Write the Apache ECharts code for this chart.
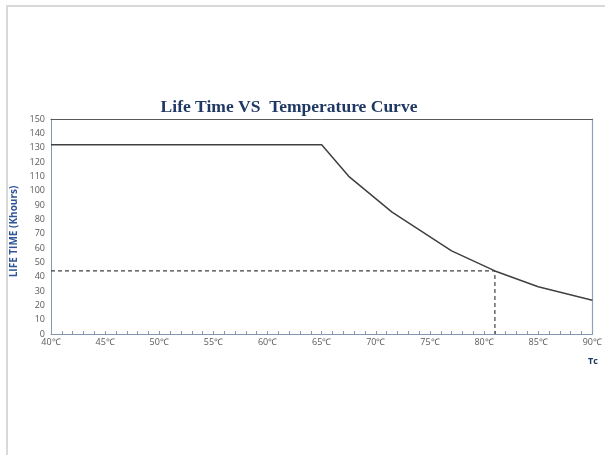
<!DOCTYPE html>
<html>
<head>
<meta charset="utf-8">
<script src="https://cdn.jsdelivr.net/npm/echarts@6/dist/echarts.min.js"></script>
<style>
html,body{margin:0;padding:0;background:#fff;}
#chart{width:605px;height:455px;}
</style>
</head>
<body>
<div id="chart"></div>
<script>
// Data
var temperatures = [40, 65, 67.5, 71.5, 77, 81, 85, 90];
var lifeKhours   = [132, 132, 110, 85, 58, 44, 33, 23.5];
var refTemp = 81;
var refLife = 44;
var xTickLabels = ['40℃','45℃','50℃','55℃','60℃','65℃','70℃','75℃','80℃','85℃','90℃'];
var yTicks = [0,10,20,30,40,50,60,70,80,90,100,110,120,130,140,150];

var curve = temperatures.map(function(t, i){ return [t, lifeKhours[i]]; });
var refLine = [[temperatures[0], refLife], [refTemp, refLife], [refTemp, 0]];

var chart = echarts.init(document.getElementById('chart'), null, {renderer:'canvas'});
var labelFont = {color:'#595959', fontSize:9, fontFamily:'Open Sans'};
chart.setOption({
  animation:false,
  backgroundColor:'#fff',
  title:{
    text:'Life Time VS  Temperature Curve',
    left:284, top:93, textAlign:'center',
    textStyle:{fontFamily:'Liberation Serif', fontWeight:'bold', fontSize:17.5, color:'#1F3864'}
  },
  graphic:[{
    type:'rect', shape:{x:7,y:6,width:700,height:600}, silent:true,
    style:{fill:'none', stroke:'#d9d9d9', lineWidth:2}
  },{
    type:'text', left:588, top:357,
    style:{text:'Tc', fontFamily:'Open Sans', fontWeight:'bold', fontSize:9, fill:'#1F3864'}
  }],
  grid:{left:51, right:9, top:119, bottom:121},
  xAxis:[{
    type:'value', min:40, max:90, interval:5,
    axisLine:{show:true, lineStyle:{color:'#8497B0', width:1}},
    axisTick:{show:true, inside:true, length:3, lineStyle:{color:'#8497B0'}},
    minorTick:{show:true, splitNumber:5, length:3, lineStyle:{color:'#8497B0'}},
    splitLine:{show:false},
    axisLabel:Object.assign({margin:4, formatter:function(v){ return xTickLabels[(v-40)/5]; }}, labelFont)
  },{
    type:'value', min:40, max:90, position:'top',
    axisLine:{show:true, onZero:false, lineStyle:{color:'#595959', width:1}},
    axisTick:{show:false}, axisLabel:{show:false}, splitLine:{show:false}
  }],
  yAxis:[{
    type:'value', min:0, max:150, interval:10,
    name:'LIFE TIME (Khours)', nameLocation:'middle', nameGap:28,
    nameTextStyle:{fontFamily:'Open Sans', fontWeight:'bold', fontSize:10, color:'#2F5597', padding:[0,0,0,-10]},
    axisLine:{show:true, lineStyle:{color:'#8497B0', width:1}},
    axisTick:{show:false},
    splitLine:{show:false},
    axisLabel:Object.assign({margin:6, formatter:function(v){ return yTicks.indexOf(v) >= 0 ? String(v) : ''; }}, labelFont)
  },{
    type:'value', min:0, max:150, position:'right',
    axisLine:{show:true, onZero:false, lineStyle:{color:'#8EA2BD', width:1.2}},
    axisTick:{show:false}, axisLabel:{show:false}, splitLine:{show:false}
  }],
  series:[{
    type:'line', data:curve, symbol:'none',
    lineStyle:{color:'#404040', width:1.5}
  },{
    type:'line', data:refLine, symbol:'none',
    lineStyle:{color:'#404040', width:1.2, type:[4,3]}
  }]
});
</script>
</body>
</html>
